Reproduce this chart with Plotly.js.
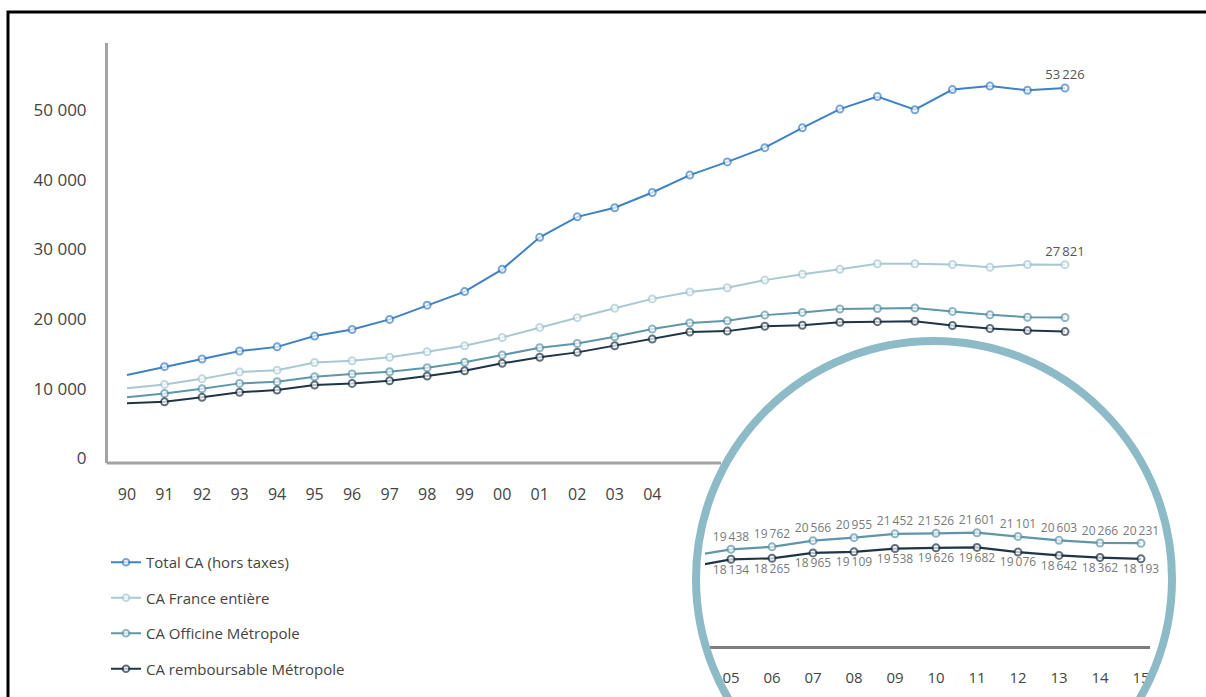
<!DOCTYPE html>
<html>
<head>
<meta charset="utf-8">
<script src="https://cdn.plot.ly/plotly-3.0.1.min.js"></script>
<style>html,body{margin:0;padding:0;background:#fff;}#chart{width:1206px;height:697px;}</style>
</head>
<body>
<div id="chart"></div>
<script>
// ---- data ----
const years = [1990,1991,1992,1993,1994,1995,1996,1997,1998,1999,2000,2001,2002,2003,2004,2005,2006,2007,2008,2009,2010,2011,2012,2013,2014,2015];
const totalCA = [11950,13150,14250,15400,16000,17550,18500,19950,22000,23950,27150,31750,34700,36000,38200,40700,42600,44650,47500,50200,52000,50100,53000,53500,52900,53226];
const franceEntiere = [10050,10600,11400,12400,12650,13750,14000,14500,15300,16150,17350,18800,20200,21550,22900,23900,24500,25600,26450,27150,27950,27950,27850,27450,27850,27821];
const officineMetropole = [8750,9300,9980,10750,10980,11700,12100,12420,13000,13780,14830,15880,16500,17450,18560,19438,19762,20566,20955,21452,21526,21601,21101,20603,20266,20231];
const remboursableMetropole = [7880,8100,8740,9460,9790,10510,10750,11130,11800,12570,13630,14500,15210,16160,17120,18134,18265,18965,19109,19538,19626,19682,19076,18642,18362,18193];
const seriesNames = ["Total CA (hors taxes)","CA France entière","CA Officine Métropole","CA remboursable Métropole"];
const mainTickYears = [1990,1991,1992,1993,1994,1995,1996,1997,1998,1999,2000,2001,2002,2003,2004];
const mainTickLabels = ["90","91","92","93","94","95","96","97","98","99","00","01","02","03","04"];
const insetTickYears = [2005,2006,2007,2008,2009,2010,2011,2012,2013,2014,2015];
const insetTickLabels = ["05","06","07","08","09","10","11","12","13","14","15"];
const yTickVals = [0,10000,20000,30000,40000,50000];
const yTickLabels = ["0","10 000","20 000","30 000","40 000","50 000"];

// ---- helpers ----
const W = 1206, H = 697;
const px = v => v / W;
const py = v => 1 - v / H;
const fmt = v => { const s = String(Math.round(v)); return s.length > 3 ? s.slice(0, s.length-3) + "\u2009" + s.slice(s.length-3) : s; };
const colors = ["#3f82c4", "#a8c8d3", "#5f96aa", "#1f3547"];
const FONT = "Open Sans, Lato, sans-serif";

const sizes = years.map((_, i) => i === 0 ? 0 : 7);
const lastOnly = arr => arr.map((v, i) => i === arr.length - 1 ? fmt(v) : "");

const mainSeries = [totalCA, franceEntiere, officineMetropole, remboursableMetropole];
const traces = mainSeries.map((ys, k) => ({
  type: "scatter",
  x: years,
  y: ys,
  name: seriesNames[k],
  legendgroup: "g" + k,
  mode: (k < 2) ? "lines+markers+text" : "lines+markers",
  text: (k < 2) ? lastOnly(ys) : undefined,
  textposition: "top center",
  textfont: {family: FONT, size: 13, color: "#555"},
  cliponaxis: false,
  line: {color: colors[k], width: 2},
  marker: {symbol: "circle", size: sizes, color: "#fff", line: {color: colors[k], width: 2}},
  xaxis: "x", yaxis: "y"
}));

// inset (zoom circle) traces: 2004 onward so the entering segment is drawn
const startIdx = years.indexOf(2004);
const insetYears = years.slice(startIdx);
[[officineMetropole, 2, "top center"], [remboursableMetropole, 3, "bottom center"]].forEach(([ys, k, pos]) => {
  const sub = ys.slice(startIdx);
  traces.push({
    type: "scatter",
    x: insetYears,
    y: sub,
    mode: "lines+markers+text",
    text: sub.map((v, i) => i === 0 ? "" : fmt(v)),
    textposition: pos,
    textfont: {family: FONT, size: 12, color: "#7a7a7a"},
    cliponaxis: false,
    showlegend: false,
    line: {color: colors[k], width: 2.2},
    marker: {symbol: "circle", size: sub.map((_, i) => i === 0 ? 0 : 7), color: "#fff", line: {color: colors[k], width: 2}},
    xaxis: "x2", yaxis: "y2"
  });
});

const layout = {
  width: W, height: H,
  margin: {l: 0, r: 0, t: 0, b: 0},
  paper_bgcolor: "#fff",
  plot_bgcolor: "rgba(0,0,0,0)",
  font: {family: FONT, color: "#444"},
  showlegend: true,
  legend: {
    x: px(106), y: py(546), xanchor: "left", yanchor: "top",
    font: {family: FONT, size: 15, color: "#444"},
    traceorder: "grouped", tracegroupgap: 13,
    bgcolor: "rgba(0,0,0,0)"
  },
  xaxis: {
    domain: [px(108), px(1100)],
    range: [1989.494, 2015.933],
    anchor: "y",
    showline: false, showgrid: false, zeroline: false,
    tickvals: mainTickYears, ticktext: mainTickLabels,
    ticks: "", ticklabelstandoff: 20,
    tickfont: {family: FONT, size: 16, color: "#444"},
    fixedrange: true
  },
  yaxis: {
    domain: [py(463), py(43)],
    range: [-700, 59700],
    anchor: "x",
    showline: true, linecolor: "#a3a3a3", linewidth: 3,
    showgrid: false, zeroline: false,
    tickvals: yTickVals, ticktext: yTickLabels,
    ticks: "", ticklabelstandoff: 15,
    tickfont: {family: FONT, size: 17, color: "#444"},
    fixedrange: true
  },
  xaxis2: {
    domain: [px(705), px(1150)],
    range: [2004.366, 2015.22],
    anchor: "y2",
    showline: true, linecolor: "#7d7d7d", linewidth: 2.5,
    showgrid: false, zeroline: false,
    tickvals: insetTickYears, ticktext: insetTickLabels,
    ticks: "", ticklabelstandoff: 16,
    tickfont: {family: FONT, size: 15, color: "#444"},
    fixedrange: true
  },
  yaxis2: {
    domain: [py(646), py(470)],
    range: [6830, 29777],
    anchor: "x2",
    visible: false, fixedrange: true
  },
  shapes: [
    {type: "rect", xref: "paper", yref: "paper", x0: px(8), x1: 1.05, y0: -0.05, y1: py(12),
     line: {color: "#000", width: 3}, fillcolor: "rgba(0,0,0,0)", layer: "above"},
    {type: "line", xref: "paper", yref: "paper", x0: px(106.5), x1: px(721), y0: py(463), y1: py(463),
     line: {color: "#a3a3a3", width: 3}, layer: "below"},
    {type: "circle", xref: "paper", yref: "paper", x0: px(696), x1: px(1172), y0: py(817), y1: py(341),
     line: {color: "#8dbac7", width: 8}, fillcolor: "rgba(0,0,0,0)", layer: "above"}
  ]
};

Plotly.newPlot("chart", traces, layout, {displayModeBar: false, staticPlot: true});
</script>
</body>
</html>
